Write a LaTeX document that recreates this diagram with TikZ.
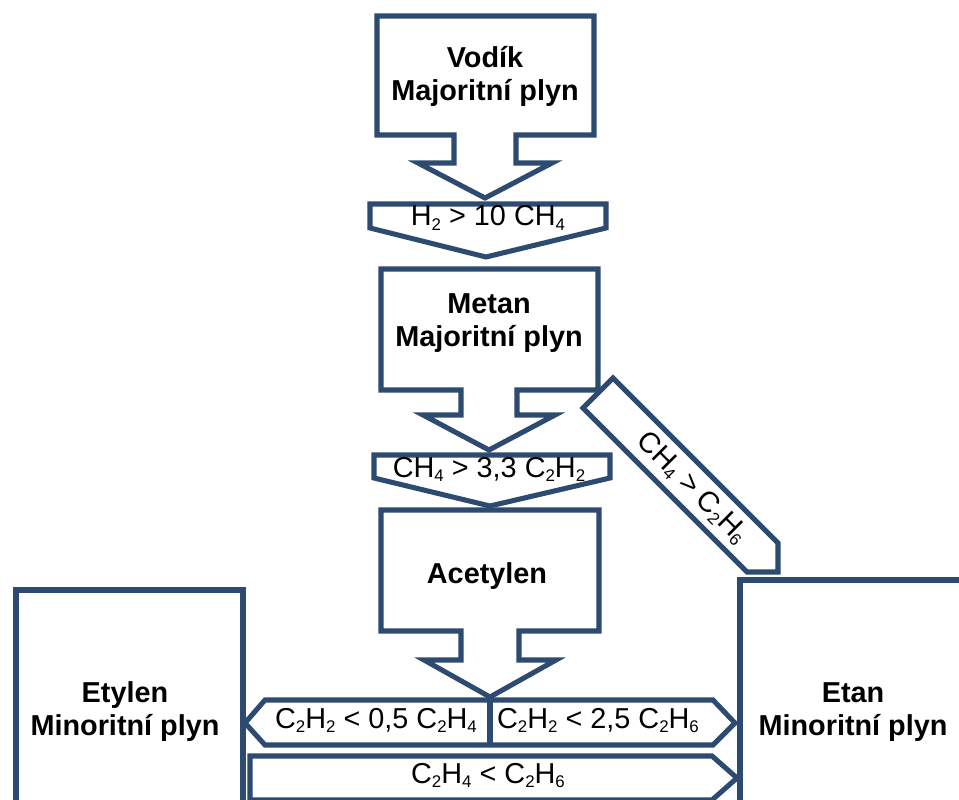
\documentclass[tikz,border=0pt]{standalone}
\usepackage{fontspec}
\setmainfont{Liberation Sans}
\usetikzlibrary{calc}
\definecolor{frame}{HTML}{2D4B70}
\newcommand{\chemsub}[1]{\raisebox{-3pt}{\fontsize{12}{12}\selectfont #1}}

\begin{document}
\begin{tikzpicture}[x=0.025cm, y=-0.025cm,
  block/.style={draw=frame, line width=3.6pt, fill=white, line join=miter},
  gas/.style={font=\fontsize{20.5}{23.5}\selectfont\bfseries, align=center, inner sep=0pt},
  cond/.style={font=\fontsize{20.5}{23.5}\selectfont, inner sep=0pt, anchor=base}]
\useasboundingbox (0,0) rectangle (959,800);
\clip (0,0) rectangle (959,800);
% major gases (callout boxes) and their conditions
\draw[block] (377,16) -- (594,16) -- (594,135) -- (516,135) -- (516,163) -- (552,163) -- (485,198) -- (418,163) -- (454,163) -- (454,135) -- (377,135) -- cycle;
\draw[block] (370,204) -- (606,204) -- (606,228) -- (486,257) -- (370,228) -- cycle;
\draw[block] (381,269) -- (598,269) -- (598,390) -- (517,390) -- (517,415) -- (555,415) -- (489,450) -- (423,415) -- (461,415) -- (461,390) -- (381,390) -- cycle;
\draw[block] (613,378) -- (778,543) -- (778,572) -- (747,572) -- (583,408) -- cycle;
\draw[block] (374,455) -- (610,455) -- (610,478) -- (490,506) -- (374,478) -- cycle;
\draw[block] (381,510) -- (599,510) -- (599,631) -- (519,631) -- (519,660) -- (556,660) -- (490,697) -- (424,660) -- (461,660) -- (461,631) -- (381,631) -- cycle;
% minor gases
\draw[block] (16,590) rectangle (243,815);
\draw[block] (740,580) rectangle (975,815);
\draw[block] (245,723) -- (265,700) -- (713,700) -- (735,723) -- (713,745) -- (265,745) -- cycle;
\draw[frame, line width=3.6pt] (490,700) -- (490,745);
\draw[block] (250,756) -- (712,756) -- (737,778) -- (712,800) -- (250,800) -- cycle;
% texts
\node[gas] (vodik) at (485,76) {Vodík\\Majoritní plyn};
\node[gas] (metan) at (489,323) {Metan\\Majoritní plyn};
\node[gas, anchor=base] (acetylen) at (487,583) {Acetylen};
\node[gas] (etylen) at (125,712) {Etylen\\Minoritní plyn};
\node[gas] (etan) at (853,712) {Etan\\Minoritní plyn};
\node[cond] (h2ch4) at (488,226) {H\chemsub{2} > 10 CH\chemsub{4}};
\node[cond] (ch4c2h2) at (489,477) {CH\chemsub{4} > 3,3 C\chemsub{2}H\chemsub{2}};
\node[cond, anchor=center, rotate=-45] (ch4c2h6) at (692,488) {CH\chemsub{4} > C\chemsub{2}H\chemsub{6}};
\node[cond] (c2h2c2h4) at (376,728) {C\chemsub{2}H\chemsub{2} < 0,5 C\chemsub{2}H\chemsub{4}};
\node[cond] (c2h2c2h6) at (598,728) {C\chemsub{2}H\chemsub{2} < 2,5 C\chemsub{2}H\chemsub{6}};
\node[cond] (c2h4c2h6) at (488,783) {C\chemsub{2}H\chemsub{4} < C\chemsub{2}H\chemsub{6}};
\end{tikzpicture}
\end{document}
